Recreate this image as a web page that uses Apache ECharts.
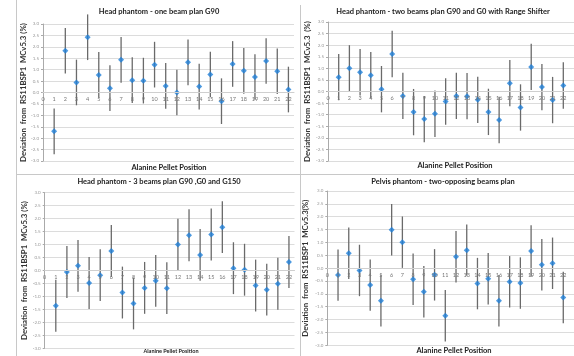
<!DOCTYPE html>
<html>
<head>
<meta charset="utf-8">
<script src="https://cdn.jsdelivr.net/npm/echarts@6/dist/echarts.min.js"></script>
<style>
  html, body { margin: 0; padding: 0; background: #fff; }
  #chart { width: 574px; height: 356px; }
</style>
</head>
<body>
<div id="chart"></div>
<script>
// pellet positions 1..22 (x values)
var positions = [1, 2, 3, 4, 5, 6, 7, 8, 9, 10, 11, 12, 13, 14, 15, 16, 17, 18, 19, 20, 21, 22];

// deviation (%) per pellet
var oneBeamG90 = [-1.70, 1.83, 0.44, 2.42, 0.77, 0.19, 1.43, 0.54, 0.52, 1.22, 0.29, 0.00, 1.32, 0.26, 0.79, -0.38, 1.25, 0.95, 0.68, 1.38, 0.93, 0.13];
var twoBeamsRangeShifter = [0.62, 1.00, 0.83, 0.70, 0.10, 1.62, -0.19, -0.89, -1.19, -0.96, -0.43, -0.19, -0.20, -0.36, -0.88, -1.23, 0.36, -0.69, 1.06, 0.19, -0.37, 0.26];
var threeBeams = [-1.36, -0.06, 0.18, -0.48, -0.18, 0.75, -0.85, -1.27, -0.67, -0.40, -0.68, 1.00, 1.36, 0.60, 1.39, 1.67, 0.09, 0.03, -0.58, -0.74, -0.51, 0.33];
var pelvisTwoOpposing = [-0.27, 0.58, -0.09, -0.66, -1.27, 1.49, 1.01, -0.43, -0.92, -0.26, -1.85, 0.44, 0.70, -0.60, -0.41, -1.27, -0.53, -0.58, 0.67, 0.13, 0.19, -1.14];

// every error bar is +/- 1.0 %
var errorHalfWidth = 1.0;

// y axis ticks
var yMin = -3, yMax = 3, yStep = 0.5;

var titles = [
    'Head phantom - one beam plan G90',
    'Head phantom - two beams plan G90 and G0 with Range Shifter',
    'Head phantom - 3 beams plan G90 ,G0 and G150',
    'Pelvis phantom - two-opposing beams plan'
];
var yNames = [
    'Deviation  from  RS11BSP1  MCv5.3 (%)',
    'Deviation  from  RS11BSP1  MCv5.3  (%)',
    'Deviation  from  RS11BSP1  MCv5.3 (%)',
    'Deviation  from  RS11BSP1  MCv5.3(%)'
];
var xName = 'Alanine Pellet Position';
var datasets = [oneBeamG90, twoBeamsRangeShifter, threeBeams, pelvisTwoOpposing];

// layout of each panel (px)
var panels = [
    { left: 43, top: 24, width: 251, height: 137, xMax: 22.5, titleX: 159, titleY: 13, xNameX: 169, xNameY: 168, xNameSize: 7.5, yGap: 15 },
    { left: 328, top: 22, width: 257.6, height: 139, xMax: 23, titleX: 443, titleY: 13, xNameX: 455, xNameY: 166, xNameSize: 7.5, yGap: 17 },
    { left: 44.7, top: 192.7, width: 249.8, height: 155.6, xMax: 22.5, titleX: 159, titleY: 183, xNameX: 171, xNameY: 352, xNameSize: 5.5, yGap: 15 },
    { left: 327.3, top: 191, width: 257.6, height: 154.3, xMax: 23, titleX: 443, titleY: 183, xNameX: 454, xNameY: 351, xNameSize: 7.5, yGap: 18 }
];

var FONT = 'Lato, "Open Sans", sans-serif';

function errorBar(params, api) {
    var x = api.value(0), v = api.value(1);
    var hi = api.coord([x, v + errorHalfWidth]);
    var lo = api.coord([x, v - errorHalfWidth]);
    return {
        type: 'line',
        shape: { x1: hi[0], y1: hi[1], x2: lo[0], y2: lo[1] },
        style: { stroke: '#6a6a6a', lineWidth: 1.3 }
    };
}

var grid = [], xAxis = [], yAxis = [], series = [], title = [];
panels.forEach(function (p, i) {
    var pts = positions.map(function (x, k) { return [x, datasets[i][k]]; });
    grid.push({ left: p.left, top: p.top, width: p.width, height: p.height });
    xAxis.push({
        type: 'value', gridIndex: i, min: 0, max: p.xMax, interval: 1, z: 4,
        // axis sits on the zero line (middle of the -3..3 range)
        position: 'bottom', offset: -p.height / 2,
        axisLine: { onZero: false, lineStyle: { color: '#cfcfcf', width: 1 } },
        axisTick: { show: false },
        splitLine: { show: false },
        axisLabel: {
            fontSize: 5.5, color: '#777', margin: 4, fontFamily: FONT,
            formatter: function (v) { return v % 1 === 0 ? String(v) : ''; },
            showMaxLabel: false, hideOverlap: false
        }
    });
    yAxis.push({
        type: 'value', gridIndex: i, min: yMin, max: yMax, interval: yStep,
        name: yNames[i], nameLocation: 'middle', nameGap: p.yGap,
        nameTextStyle: { fontSize: 7.8, fontWeight: 'bold', color: '#333', fontFamily: FONT },
        axisLine: { show: true, lineStyle: { color: '#aaa', width: 1 } },
        axisTick: { show: true, length: 2, lineStyle: { color: '#aaa' } },
        splitLine: { lineStyle: { color: '#dcdcdc', width: 1 } },
        axisLabel: {
            fontSize: 4.5, color: '#999', margin: 4, fontFamily: FONT,
            formatter: function (v) { return v.toFixed(1); }
        }
    });
    series.push({
        type: 'custom', xAxisIndex: i, yAxisIndex: i,
        renderItem: errorBar, data: pts, z: 2, silent: true
    });
    series.push({
        type: 'scatter', xAxisIndex: i, yAxisIndex: i,
        symbol: 'diamond', symbolSize: 6, data: pts, z: 3,
        itemStyle: { color: '#1f7fd8' }
    });
    title.push({
        text: titles[i], left: p.titleX, top: p.titleY - 5, textAlign: 'center', padding: 0,
        textStyle: { fontSize: 7.5, fontWeight: 'bold', color: '#222', fontFamily: FONT }
    });
    title.push({
        text: xName, left: p.xNameX, top: p.xNameY - p.xNameSize * 0.65, textAlign: 'center', padding: 0,
        textStyle: { fontSize: p.xNameSize, fontWeight: 'bold', color: '#222', fontFamily: FONT }
    });
});

var chart = echarts.init(document.getElementById('chart'));
chart.setOption({
    animation: false,
    backgroundColor: '#fff',
    title: title,
    grid: grid,
    xAxis: xAxis,
    yAxis: yAxis,
    series: series,
    graphic: [
        // panel frame lines
        { type: 'line', shape: { x1: 16.5, y1: 0, x2: 16.5, y2: 356 }, style: { stroke: '#c8c8c8', lineWidth: 1 } },
        { type: 'line', shape: { x1: 300.5, y1: 5, x2: 300.5, y2: 356 }, style: { stroke: '#c8c8c8', lineWidth: 1 } },
        { type: 'line', shape: { x1: 16, y1: 174.5, x2: 574, y2: 174.5 }, style: { stroke: '#c8c8c8', lineWidth: 1 } }
    ]
});
window.addEventListener('resize', function () { chart.resize(); });
</script>
</body>
</html>
